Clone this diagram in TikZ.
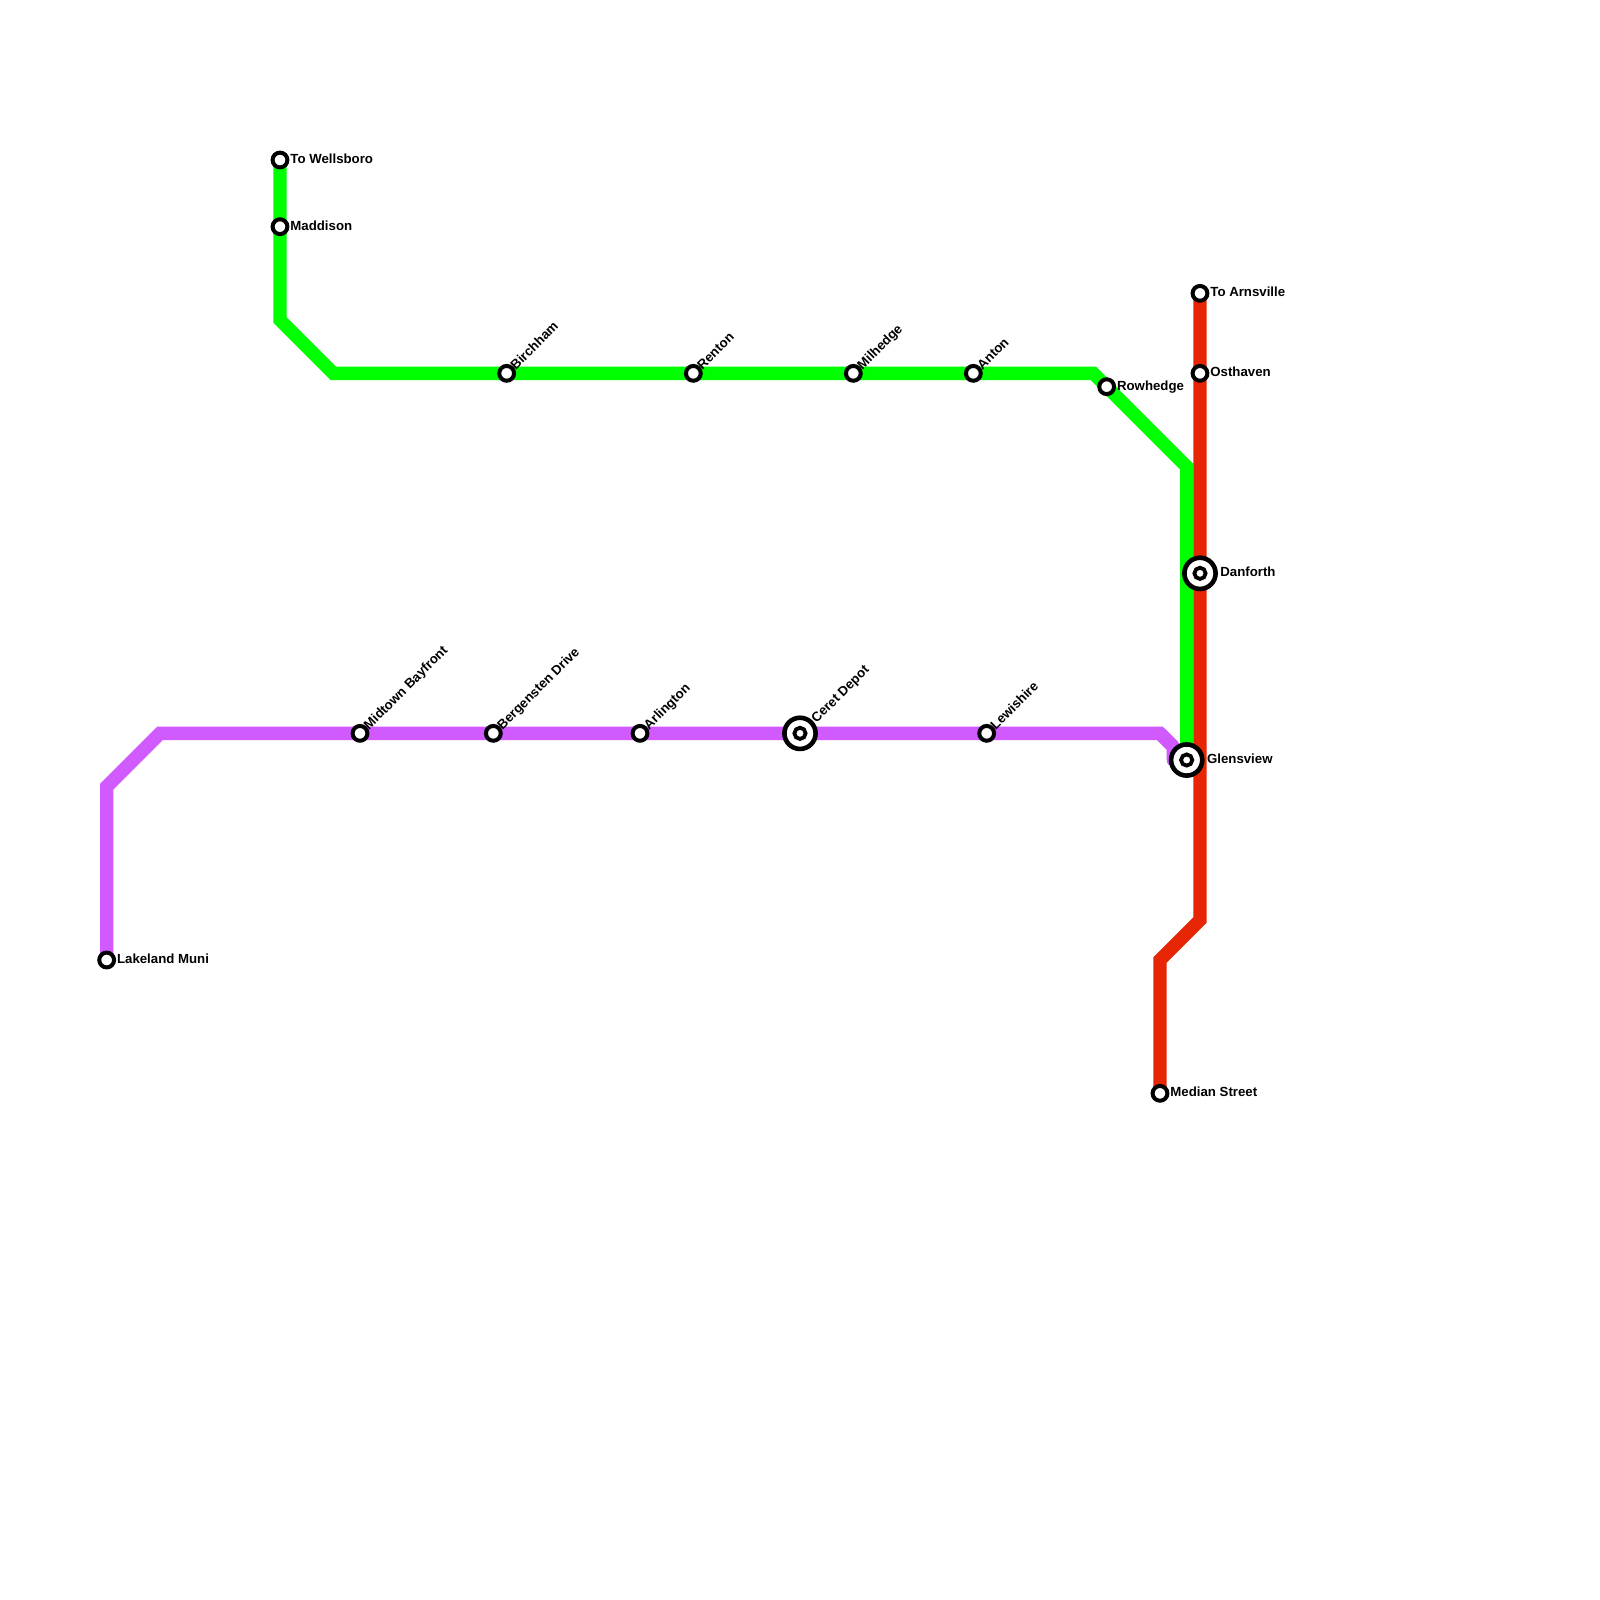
\documentclass[tikz,border=0pt]{standalone}
\usepackage{fontspec}
\setmainfont{Liberation Sans}
\usetikzlibrary{backgrounds}
\tikzset{
  x=6.6667pt,y=-6.6667pt,
  route/.style={line width=6.667pt,line cap=butt,line join=miter},
  greenline/.style={route,draw={rgb,255:red,0;green,255;blue,0}},
  redline/.style={route,draw={rgb,255:red,230;green,38;blue,5}},
  purpleline/.style={route,draw={rgb,255:red,209;green,90;blue,255}},
  stop/.style={circle,draw=black,fill=white,line width=2pt,minimum size=7.4pt,inner sep=0pt},
  hub/.style={circle,draw=black,fill=white,line width=2.3pt,minimum size=15.6pt,inner sep=0pt,
    path picture={\draw[black,fill=white,line width=1.9pt] (path picture bounding box.center) circle (2.8pt);}},
  lbl/.style={font=\bfseries\fontsize{6.62pt}{8pt}\selectfont,text=black,inner sep=0pt},
  rlbl/.style={lbl,anchor=base west,xshift=5pt,yshift=-1.7pt},
  dlbl/.style={lbl,rotate=45,anchor=base west,xshift=4.1pt,yshift=-2.2pt},
}
\begin{document}
\begin{tikzpicture}
\useasboundingbox (0,0) rectangle (120,120);
% stations
\node[stop] (wells) at (21,12) {};
\node[stop] (madd) at (21,17) {};
\node[stop] (birch) at (38,28) {};
\node[stop] (rent) at (52,28) {};
\node[stop] (milh) at (64,28) {};
\node[stop] (anton) at (73,28) {};
\node[stop] (rowh) at (83,29) {};
\node[stop] (arns) at (90,22) {};
\node[stop] (osth) at (90,28) {};
\node[hub] (danf) at (90,43) {};
\node[hub] (glen) at (89,57) {};
\node[stop] (med) at (87,82) {};
\node[stop] (lake) at (8,72) {};
\node[stop] (midt) at (27,55) {};
\node[stop] (berg) at (37,55) {};
\node[stop] (arli) at (48,55) {};
\node[hub] (cere) at (60,55) {};
\node[stop] (lewi) at (74,55) {};
% bends
\coordinate (g1) at (21,24);
\coordinate (g2) at (25,28);
\coordinate (g3) at (82,28);
\coordinate (g4) at (89,35);
\coordinate (r1) at (90,69);
\coordinate (r2) at (87,72);
\coordinate (p1) at (8,59);
\coordinate (p2) at (12,55);
\coordinate (p3) at (87,55);
\coordinate (p4) at (88,56);
\coordinate (p5) at (88,57);
\begin{pgfonlayer}{background}
\fill[white] (0,0) rectangle (120,120);
\draw[purpleline] (lake.center) -- (p1) -- (p2) -- (p3) -- (p4);
\draw[purpleline,line join=round] (p3) -- (p4) -- (p5) -- (glen.center);
\draw[greenline] (wells.center) -- (g1) -- (g2) -- (g3) -- (g4) -- (glen.center);
\draw[redline] (arns.center) -- (r1) -- (r2) -- (med.center);
\end{pgfonlayer}
% labels
\node[rlbl] (t1) at (wells.center) {To Wellsboro};
\node[rlbl] (t2) at (madd.center) {Maddison};
\node[rlbl] (t3) at (rowh.center) {Rowhedge};
\node[rlbl] (t4) at (arns.center) {To Arnsville};
\node[rlbl] (t5) at (osth.center) {Osthaven};
\node[rlbl,xshift=5pt] (t6) at (danf.center) {Danforth};
\node[rlbl,xshift=5pt] (t7) at (glen.center) {Glensview};
\node[rlbl] (t8) at (med.center) {Median Street};
\node[rlbl] (t9) at (lake.center) {Lakeland Muni};
\node[dlbl] (d1) at (birch.center) {Birchham};
\node[dlbl] (d2) at (rent.center) {Renton};
\node[dlbl] (d3) at (milh.center) {Milhedge};
\node[dlbl] (d4) at (anton.center) {Anton};
\node[dlbl] (d5) at (midt.center) {Midtown Bayfront};
\node[dlbl] (d6) at (berg.center) {Bergensten Drive};
\node[dlbl] (d7) at (arli.center) {Arlington};
\node[dlbl,xshift=5pt,yshift=-0.3pt] (d8) at (cere.center) {Ceret Depot};
\node[dlbl] (d9) at (lewi.center) {Lewishire};
\end{tikzpicture}
\end{document}
